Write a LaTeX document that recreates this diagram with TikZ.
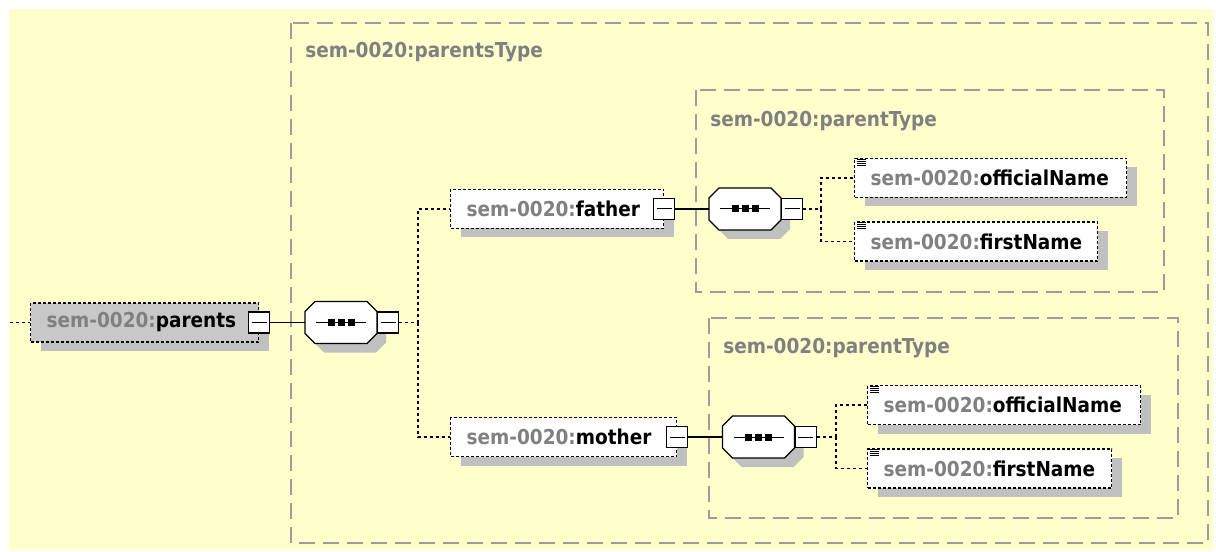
\documentclass[tikz,border=0pt]{standalone}
\usepackage{fontspec}
\setmainfont{DejaVu Sans Condensed}
\usetikzlibrary{shadows}
\definecolor{bgyellow}{HTML}{FFFFCC}
\definecolor{boxgray}{HTML}{9C9C9C}
\definecolor{pfx}{HTML}{808080}
\definecolor{shd}{HTML}{C0C0C0}
\definecolor{selfill}{HTML}{C8C8C8}
\newcommand\seqdraw[1]{%
  \begin{scope}[shift={(#1.center)}]
    \fill[shd] (-26+9,-21+9) -- (26+9,-21+9) -- (36+9,-11+9) -- (36+9,11+9) -- (26+9,21+9)
      -- (-26+9,21+9) -- (-36+9,11+9) -- (-36+9,-11+9) -- cycle;
    \draw[fill=white, line width=0.9pt] (-26,-21) -- (26,-21) -- (36,-11) -- (36,11) -- (26,21)
      -- (-26,21) -- (-36,11) -- (-36,-11) -- cycle;
    \draw[line width=0.75pt] (-25,0) -- (25,0);
    \foreach \d in {-10,0,10} \fill (\d-3.5,-3.5) rectangle (\d+3.5,3.5);
  \end{scope}}
\begin{document}
\begin{tikzpicture}[x=0.75pt,y=-0.75pt,
  font=\fontsize{15.4}{19}\selectfont\bfseries,
  container/.style={draw=boxgray, line width=1.1pt, dash pattern=on 12pt off 6pt},
  ctitle/.style={anchor=west, text=pfx, inner sep=0pt},
  shadowed/.style={drop shadow={shadow xshift=7.5pt, shadow yshift=-6.75pt, fill=shd, opacity=1}},
  elem/.style={draw, line width=0.9pt, dash pattern=on 2.25pt off 1.5pt, fill=white, shadowed,
    minimum height=29.25pt, inner xsep=12pt, inner ysep=0pt, align=left, anchor=west},
  minus/.style={draw, solid, fill=white, line width=0.8pt, minimum size=15.75pt, inner sep=0pt,
    path picture={\draw[solid, line width=0.75pt] ([xshift=2.25pt]path picture bounding box.west) -- ([xshift=-2.25pt]path picture bounding box.east);}},
  seqbox/.style={rectangle, minimum width=54pt, minimum height=31.5pt, inner sep=0pt},
  conn/.style={line width=0.8pt},
  dotconn/.style={line width=0.85pt, dash pattern=on 2.25pt off 2.25pt}
]
\useasboundingbox (0,0) rectangle (1216,552);
\fill[bgyellow] (9,9) rectangle (1213,550);

% containers
\draw[container] (291,23) rectangle (1208,543);
\node[ctitle] (t0) at (305,52) {sem-0020:parentsType};
\draw[container] (696,90) rectangle (1164,292);
\node[ctitle] (t1) at (710,121) {sem-0020:parentType};
\draw[container] (709,318) rectangle (1178,518);
\node[ctitle] (t2) at (723,348) {sem-0020:parentType};

% elements
\node[elem, text width=147pt, fill=selfill] (parents) at (30,322.5) {\mbox{{\color{pfx}sem-0020:}parents}};
\node[minus] (mparents) at (parents.east) {};
\node[seqbox] (s1) at (341,322.5) {};
\seqdraw{s1}
\node[minus, anchor=west] (ms1) at (s1.east) {};

\node[elem, text width=135.75pt] (father) at (450,209) {\mbox{{\color{pfx}sem-0020:}father}};
\node[minus] (mfather) at (father.east) {};
\node[seqbox] (s2) at (745,209) {};
\seqdraw{s2}
\node[minus, anchor=west] (ms2) at (s2.east) {};

\node[elem, text width=145.5pt] (mother) at (450,437) {\mbox{{\color{pfx}sem-0020:}mother}};
\node[minus] (mmother) at (mother.east) {};
\node[seqbox] (s3) at (758.5,437) {};
\seqdraw{s3}
\node[minus, anchor=west] (ms3) at (s3.east) {};

\node[elem, text width=180pt] (off1) at (854,178) {\mbox{{\color{pfx}sem-0020:}officialName}};
\node[elem, text width=158.25pt] (first1) at (854,241.5) {\mbox{{\color{pfx}sem-0020:}firstName}};
\node[elem, text width=180.75pt] (off2) at (867,405) {\mbox{{\color{pfx}sem-0020:}officialName}};
\node[elem, text width=159pt] (first2) at (867,468.5) {\mbox{{\color{pfx}sem-0020:}firstName}};

% icons
\foreach \n in {off1,first1,off2,first2}
  \foreach \k in {0,1,2,3}
    \draw[line width=0.75pt] ([xshift=2.25pt,yshift={-(0.9+1.5*\k)*1pt}]\n.north west) -- ++(6.75pt,0pt);

% connectors
\coordinate (lead) at (10,322.5);
\coordinate (j1) at (418,322.5);
\coordinate (j2) at (821,209);
\coordinate (j3) at (836,437);
\draw[dotconn] (lead) -- (parents.west);
\draw[conn] (mparents.east) -- (s1.west);
\draw[dotconn] (ms1.east) -- (j1);
\draw[dotconn] (j1) |- (father.west);
\draw[dotconn] (j1) |- (mother.west);
\draw[conn] (mfather.east) -- (s2.west);
\draw[dotconn] (ms2.east) -- (j2);
\draw[dotconn] (j2) |- (off1.west);
\draw[dotconn] (j2) |- (first1.west);
\draw[conn] (mmother.east) -- (s3.west);
\draw[dotconn] (ms3.east) -- (j3);
\draw[dotconn] (j3) |- (off2.west);
\draw[dotconn] (j3) |- (first2.west);
\end{tikzpicture}
\end{document}
